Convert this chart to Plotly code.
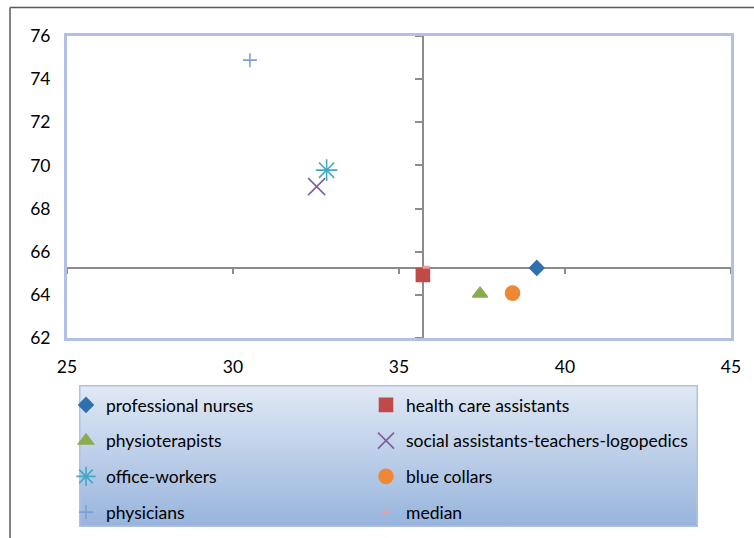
import plotly.graph_objects as go

# ---- data ----
groups = ["professional nurses", "health care assistants", "physioterapists",
          "social assistants-teachers-logopedics", "office-workers",
          "blue collars", "physicians"]
x_vals = [39.15, 35.72, 37.44, 32.52, 32.82, 38.42, 30.51]
y_vals = [65.25, 64.92, 64.05, 69.02, 69.78, 64.08, 74.88]
median_x = [35.82]
median_y = [65.28]
axis_cross_x = 35.72
axis_cross_y = 65.26

x_ticks = [25, 30, 35, 40, 45]
y_ticks = [62, 64, 66, 68, 70, 72, 74, 76]
x_range = [25, 45]
y_range = [62, 76]

# ---- styles ----
symbols = ["diamond", "square", "triangle-up", "x-thin-open", "asterisk-open",
           "circle", "cross-thin-open"]
colors = ["#3070ae", "#be4b48", "#8aac4f", "#7d5fa0", "#45a8c4", "#ee8834", "#7f9fd4"]
sizes = [11, 13, 13, 17, 18, 14, 10]
legend_of = ["legend", "legend2", "legend", "legend2", "legend", "legend2", "legend"]

W, H = 754, 538
ML, MT, MB = 67, 36, 0
MR = W - 731
PW, PH = W - ML - MR, H - MT - MB
def px_x(sx):
    return (sx - ML) / PW
def px_y(sy):
    return (H - MB - sy) / PH

ydom0 = px_y(338)

fig = go.Figure()

# legend background box with vertical gradient
fig.add_trace(go.Scatter(
    x=[0, 1, 1, 0, 0], y=[0, 0, 1, 1, 0], xaxis="x3", yaxis="y3",
    mode="lines", fill="toself", line=dict(color="#b3c0e6", width=3),
    fillgradient=dict(type="vertical", colorscale=[[0, "#97b4dd"], [1, "#e1e9f4"]]),
    hoverinfo="skip", showlegend=False))

for i, g in enumerate(groups):
    fig.add_trace(go.Scatter(
        x=[x_vals[i]], y=[y_vals[i]], mode="markers", name=g,
        legend=legend_of[i], legendgroup=g,
        marker=dict(symbol=symbols[i], color=colors[i], size=sizes[i],
                    line=dict(color=colors[i], width=1.6))))

fig.add_trace(go.Scatter(
    x=median_x, y=median_y, mode="markers", name="median", xaxis="x2", yaxis="y2",
    legend="legend2", legendgroup="median",
    marker=dict(symbol="line-ew-open", color="#f09c9c", size=5,
                line=dict(color="#f09c9c", width=3))))

cross_py = ydom0 + (axis_cross_y - y_range[0]) / (y_range[1] - y_range[0]) * (1 - ydom0)
cross_px = (axis_cross_x - x_range[0]) / (x_range[1] - x_range[0])

font = dict(family="Lato, Calibri, sans-serif", size=17.5, color="#000000")
border = "#b3c0e6"
axc = "#8c8c8c"

fig.update_layout(
    width=W, height=H,
    margin=dict(l=ML, r=MR, t=MT, b=MB, autoexpand=False),
    paper_bgcolor="white", plot_bgcolor="white", font=font,
    xaxis=dict(range=x_range, domain=[0, 1], tickvals=x_ticks, ticks="",
               showline=True, mirror=True, linecolor=border, linewidth=3,
               showgrid=False, zeroline=False, ticklabelstandoff=11, anchor="y"),
    yaxis=dict(range=y_range, domain=[ydom0, 1], tickvals=y_ticks, ticks="",
               showline=True, mirror=True, linecolor=border, linewidth=3,
               showgrid=False, zeroline=False, ticklabelstandoff=10, anchor="x"),
    xaxis2=dict(range=x_range, overlaying="x", anchor="free", position=cross_py,
                side="bottom", tickvals=x_ticks, ticks="outside", ticklen=6,
                tickcolor=axc, tickwidth=1.5, showline=True, linecolor=axc,
                linewidth=1.5, showticklabels=False, showgrid=False,
                zeroline=False, layer="below traces"),
    yaxis2=dict(range=y_range, overlaying="y", anchor="free", position=cross_px,
                side="left", tickvals=y_ticks, ticks="outside", ticklen=7,
                tickcolor=axc, tickwidth=1.5, showline=True, linecolor=axc,
                linewidth=1.5, showticklabels=False, showgrid=False,
                zeroline=False, layer="below traces"),
    xaxis3=dict(domain=[px_x(79), px_x(698)], range=[0, 1], visible=False, anchor="y3"),
    yaxis3=dict(domain=[px_y(527), px_y(385)], range=[0, 1], visible=False, anchor="x3"),
    legend=dict(x=px_x(66), y=px_y(387), xanchor="left", yanchor="top",
                bgcolor="rgba(0,0,0,0)", tracegroupgap=10, font=font, orientation="v"),
    legend2=dict(x=px_x(366), y=px_y(387), xanchor="left", yanchor="top",
                 bgcolor="rgba(0,0,0,0)", tracegroupgap=10, font=font, orientation="v"),
    shapes=[
        dict(type="line", xref="paper", yref="paper", x0=px_x(10), x1=px_x(10),
             y0=px_y(7.5), y1=px_y(538), line=dict(color="#5a5a5a", width=1.5)),
        dict(type="line", xref="paper", yref="paper", x0=px_x(10), x1=px_x(754),
             y0=px_y(7.5), y1=px_y(7.5), line=dict(color="#5a5a5a", width=1.5)),
    ],
    showlegend=True,
)

# remove the default page margin so the figure fills the window exactly
fig.write_html("out.html", config={"displayModeBar": False},
               post_script="document.body.style.margin='0';")
